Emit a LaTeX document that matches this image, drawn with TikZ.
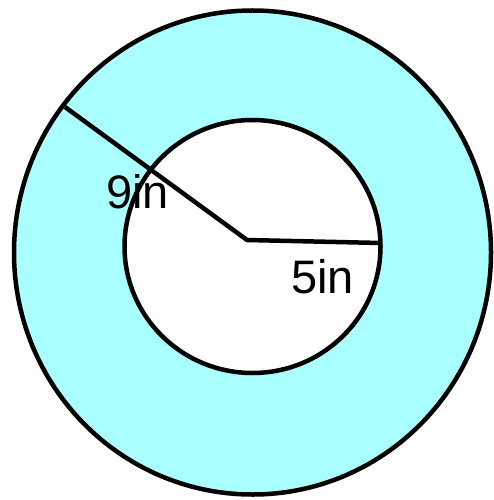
\documentclass[tikz,border=0pt]{standalone}
\usepackage{fontspec}
\setmainfont{Liberation Sans}
\definecolor{ringfill}{RGB}{170,255,255}
\begin{document}
\begin{tikzpicture}[x=1pt,y=-1pt,
  rim/.style={draw=black,line width=4.5pt},
  radline/.style={draw=black,line width=4.5pt,line join=round},
  lbl/.style={inner sep=0pt,anchor=base west,font=\fontsize{47}{56}\selectfont}]
\fill[white] (0,0) rectangle (493,500);
\useasboundingbox (0,0) rectangle (493,500);
\fill[ringfill,even odd rule] (252.5,252.5) ellipse [x radius=238.5,y radius=242]
  (252.5,246.5) ellipse [x radius=128,y radius=126.5];
\draw[rim] (252.5,252.5) ellipse [x radius=238.5,y radius=242];
\draw[rim] (252.5,246.5) ellipse [x radius=128,y radius=126.5];
\coordinate (c) at (247,240);
\coordinate (p9) at (65,107);
\coordinate (p5) at (381,243);
\draw[radline] (p9) -- (c) -- (p5);
\node[lbl] (l9) at (106,208) {9in};
\node[lbl] (l5) at (291,293) {5in};
\end{tikzpicture}
\end{document}
